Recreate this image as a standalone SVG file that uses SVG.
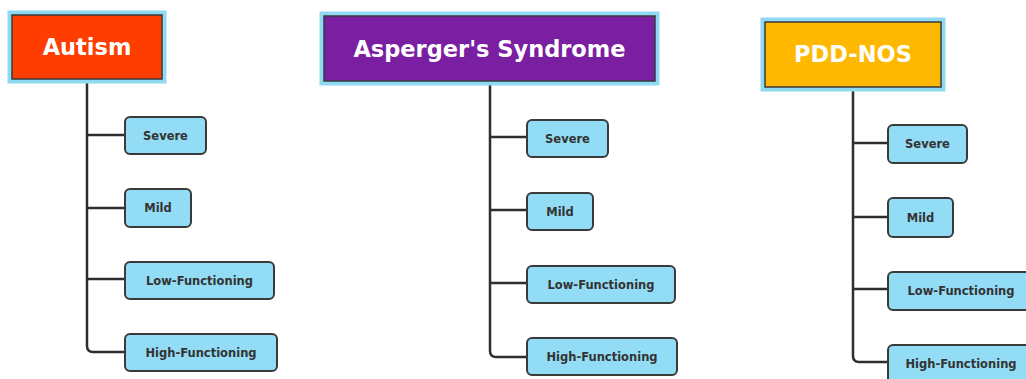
<svg xmlns="http://www.w3.org/2000/svg" width="1026" height="379" viewBox="0 0 1026 379">
<style>
.glow{fill:none;stroke:#8fd9f2;stroke-width:5}
.parent{stroke:#3a3a3a;stroke-width:1.5}
.ptext{font-family:"DejaVu Sans","Liberation Sans",sans-serif;font-weight:bold;font-size:22.5px;fill:#ffffff;text-anchor:middle}
.child{fill:#92dcf5;stroke:#3a3a3a;stroke-width:2}
.ctext{font-family:"DejaVu Sans","Liberation Sans",sans-serif;font-weight:bold;font-size:11.5px;fill:#333333;text-anchor:middle}
.conn{fill:none;stroke:#2e2e2e;stroke-width:2.5}
</style>
<rect width="1026" height="379" fill="#ffffff"/>
<g id="connectors">
<path class="conn" d="M87 79 V346 Q87 352 93 352 H125 M87 135 H125 M87 208 H125 M87 279 H125"/>
<path class="conn" d="M490 81 V351 Q490 357 496 357 H527 M490 137 H527 M490 210 H527 M490 283 H527"/>
<path class="conn" d="M853 87 V356 Q853 362 859 362 H888 M853 143 H888 M853 217 H888 M853 289 H888"/>
</g>
<g id="autism">
<rect class="glow" x="10" y="13" width="154" height="68"/>
<rect class="parent" x="12" y="15" width="150" height="64" fill="#ff3d00"/>
<text class="ptext" x="87" y="55">Autism</text>
</g>
<g id="autism-severe"><rect class="child" x="125" y="117" width="81" height="37" rx="5"/><text class="ctext" x="165.5" y="139.5">Severe</text></g>
<g id="autism-mild"><rect class="child" x="125" y="189" width="66" height="38" rx="5"/><text class="ctext" x="158" y="212">Mild</text></g>
<g id="autism-low"><rect class="child" x="125" y="262" width="149" height="37" rx="5"/><text class="ctext" x="199.5" y="284.5">Low-Functioning</text></g>
<g id="autism-high"><rect class="child" x="125" y="334" width="152" height="37" rx="5"/><text class="ctext" x="201" y="356.5">High-Functioning</text></g>
<g id="asperger">
<rect class="glow" x="322" y="14" width="335" height="69"/>
<rect class="parent" x="324" y="16" width="331" height="65" fill="#7b1fa2"/>
<text class="ptext" x="489.5" y="57">Asperger's Syndrome</text>
</g>
<g id="asperger-severe"><rect class="child" x="527" y="120" width="81" height="37" rx="5"/><text class="ctext" x="567.5" y="142.5">Severe</text></g>
<g id="asperger-mild"><rect class="child" x="527" y="193" width="66" height="37" rx="5"/><text class="ctext" x="560" y="215.5">Mild</text></g>
<g id="asperger-low"><rect class="child" x="527" y="266" width="148" height="37" rx="5"/><text class="ctext" x="601" y="288.5">Low-Functioning</text></g>
<g id="asperger-high"><rect class="child" x="527" y="338" width="150" height="37" rx="5"/><text class="ctext" x="602" y="360.5">High-Functioning</text></g>
<g id="pddnos">
<rect class="glow" x="763" y="20" width="180" height="69"/>
<rect class="parent" x="765" y="22" width="176" height="65" fill="#ffb800"/>
<text class="ptext" x="853" y="62">PDD-NOS</text>
</g>
<g id="pdd-severe"><rect class="child" x="888" y="125" width="79" height="38" rx="5"/><text class="ctext" x="927.5" y="148">Severe</text></g>
<g id="pdd-mild"><rect class="child" x="888" y="198" width="65" height="39" rx="5"/><text class="ctext" x="920.5" y="221.5">Mild</text></g>
<g id="pdd-low"><rect class="child" x="888" y="272" width="150" height="38" rx="5"/><text class="ctext" x="961" y="295">Low-Functioning</text></g>
<g id="pdd-high"><rect class="child" x="888" y="345" width="150" height="38" rx="5"/><text class="ctext" x="961" y="368">High-Functioning</text></g>
</svg>
